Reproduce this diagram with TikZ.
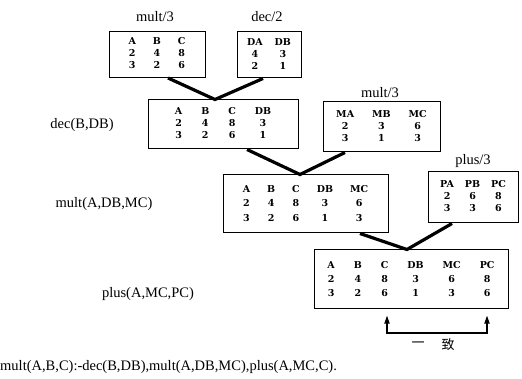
\documentclass[tikz,border=0pt]{standalone}
\usepackage{fontspec}
\setmainfont{Liberation Serif}
\newfontfamily\cjk{Noto Sans CJK SC}
\newfontfamily\tabfont{DejaVu Serif}
\usetikzlibrary{arrows.meta}
\begin{document}
\begin{tikzpicture}[x=1pt,y=-1pt,
  tbl/.style={draw, line width=1pt, inner sep=0pt, align=center,
    font=\tabfont\bfseries\fontsize{9.5}{12}\selectfont},
  lbl/.style={font=\fontsize{14.5}{16}\selectfont, inner sep=0pt},
  conn/.style={line width=3.2pt},
  tie/.style={line width=1.6pt, {Triangle[length=8pt,width=5pt]}-{Triangle[length=8pt,width=5pt]}}]
\useasboundingbox (0,0) rectangle (522,379);
% boxes
\node[tbl, minimum width=96pt, minimum height=46pt] (b1) at (157,54.5)
  {\setlength{\tabcolsep}{8.5pt}\begin{tabular}{ccc}A&B&C\\2&4&8\\3&2&6\end{tabular}};
\node[tbl, minimum width=64pt, minimum height=46pt] (b2) at (269,55)
  {\setlength{\tabcolsep}{6pt}\begin{tabular}{cc}DA&DB\\4&3\\2&1\end{tabular}};
\node[tbl, minimum width=150pt, minimum height=49pt] (b3) at (223,124.5)
  {\setlength{\tabcolsep}{9.5pt}\begin{tabular}{cccc}A&B&C&DB\\2&4&8&3\\3&2&6&1\end{tabular}};
\node[tbl, minimum width=117pt, minimum height=50pt] (b4) at (381.5,127)
  {\setlength{\tabcolsep}{9pt}\begin{tabular}{ccc}MA&MB&MC\\2&3&6\\3&1&3\end{tabular}};
\node[tbl, minimum width=165pt, minimum height=58pt] (b5) at (305.5,204)
  {\renewcommand{\arraystretch}{1.2}\setlength{\tabcolsep}{8.5pt}\begin{tabular}{ccccc}A&B&C&DB&MC\\2&4&8&3&6\\3&2&6&1&3\end{tabular}};
\node[tbl, minimum width=90pt, minimum height=51pt] (b6) at (473,197.5)
  {\setlength{\tabcolsep}{5.5pt}\begin{tabular}{ccc}PA&PB&PC\\2&6&8\\3&3&6\end{tabular}};
\node[tbl, minimum width=194pt, minimum height=59pt] (b7) at (411,279.5)
  {\renewcommand{\arraystretch}{1.15}\setlength{\tabcolsep}{9.5pt}\begin{tabular}{cccccc}A&B&C&DB&MC&PC\\2&4&8&3&6&8\\3&2&6&1&3&6\end{tabular}};
% labels
\node[lbl] (t1) at (155,17) {mult/3};
\node[lbl] (t2) at (267,17) {dec/2};
\node[lbl] (t4) at (380,93) {mult/3};
\node[lbl] (t6) at (473,161) {plus/3};
\node[lbl] (l3) at (82,125) {dec(B,DB)};
\node[lbl] (l5) at (104,204) {mult(A,DB,MC)};
\node[lbl] (l7) at (148,294) {plus(A,MC,PC)};
\node[lbl, anchor=west] (cl) at (0,367) {mult(A,B,C):-dec(B,DB),mult(A,DB,MC),plus(A,MC,C).};
% connectors
\coordinate (v1) at (215,0 |- b3.north);
\draw[conn] (168,0 |- b1.south) -- (v1) -- (263,0 |- b2.south);
\coordinate (v2) at (300,0 |- b5.north);
\draw[conn] (247,0 |- b3.south) -- (v2) -- (345,0 |- b4.south);
\coordinate (v3) at (407,0 |- b7.north);
\draw[conn] (360,0 |- b5.south) -- (v3) -- (452,0 |- b6.south);
% consistency arrows
\coordinate (a1) at (387,0 |- b7.south);
\coordinate (a2) at (487,0 |- b7.south);
\coordinate (k) at (0,333);
\draw[tie] ([yshift=-6pt]a1) -- (a1 |- k) -- (a2 |- k) -- ([yshift=-6pt]a2);
\node[font=\cjk\fontsize{13}{15}\selectfont, inner sep=0pt] (y1) at (418,345) {一};
\node[font=\cjk\fontsize{13}{15}\selectfont, inner sep=0pt] (y2) at (448,345) {致};
\end{tikzpicture}
\end{document}
